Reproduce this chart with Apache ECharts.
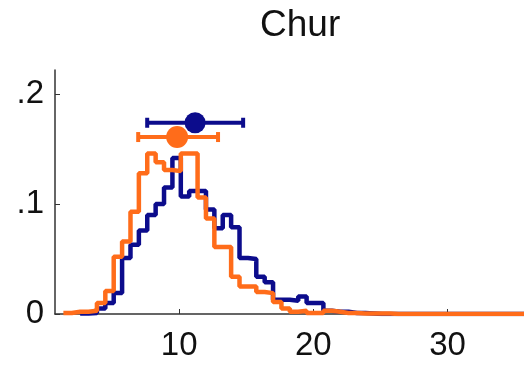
<!DOCTYPE html>
<html>
<head>
<meta charset="utf-8">
<script src="https://cdn.jsdelivr.net/npm/echarts@6/dist/echarts.min.js"></script>
<style>
html, body { margin: 0; padding: 0; background: #fff; }
#main { width: 524px; height: 366px; }
</style>
</head>
<body>
<div id="main"></div>
<script>
// histogram bins (shared by both series)
var binStart = 0.75;
var binWidth = 0.625;

// bin heights, left to right (null = nothing drawn yet)
var blueHeights = [null, null, null, 0.0005, 0.001, 0.005, 0.01, 0.019, 0.051, 0.063,
    0.076, 0.09, 0.1, 0.115, 0.142, 0.107, 0.112, 0.112, 0.095, 0.078,
    0.09, 0.079, 0.051, 0.05, 0.034, 0.029, 0.013, 0.013, 0.012, 0.016,
    0.01, 0.01, 0.003, 0.002, 0.002, 0.001, 0.001, 0.0005, 0, 0,
    0, 0, 0, 0, 0, 0, 0, 0, 0, 0,
    0, 0, 0, 0, 0, 0];
var orangeHeights = [null, 0.001, 0.002, 0.002, 0.003, 0.01, 0.021, 0.052, 0.066, 0.093,
    0.128, 0.146, 0.138, 0.131, 0.13, 0.146, 0.146, 0.106, 0.087, 0.061,
    0.061, 0.034, 0.025, 0.025, 0.02, 0.019, 0.011, 0.005, 0.002, 0.003,
    0.001, 0.001, 0.003, 0.002, 0.001, 0.001, 0.0005, 0.0005, 0.0005, 0.0005,
    0, 0, 0, 0, 0, 0, 0, 0, 0, 0,
    0, 0, 0, 0, 0, 0];

// mean and spread markers: [blue, orange]
var meanX = [11.19, 9.85];
var errLow = [7.62, 6.95];
var errHigh = [14.77, 12.9];
var markY = [0.174, 0.161];

var xTicks = [10, 20, 30];
var yTicks = [0, 0.1, 0.2];
var yTickLabels = ['0', '.1', '.2'];

var blue = '#0c0c8c';
var orange = '#ff6c1a';

function stepData(heights) {
    var out = [];
    for (var i = 0; i < heights.length; i++) {
        if (heights[i] === null) continue;
        out.push([binStart + i * binWidth, heights[i]]);
    }
    // close the last bin
    out.push([binStart + heights.length * binWidth, heights[heights.length - 1]]);
    return out;
}

function renderErr(params, api) {
    var lo = api.coord([api.value(0), api.value(2)]);
    var hi = api.coord([api.value(1), api.value(2)]);
    var cap = 5;
    var style = { stroke: api.visual('color'), lineWidth: 4 };
    return {
        type: 'group',
        children: [
            { type: 'line', shape: { x1: lo[0], y1: lo[1], x2: hi[0], y2: hi[1] }, style: style },
            { type: 'line', shape: { x1: lo[0], y1: lo[1] - cap, x2: lo[0], y2: lo[1] + cap }, style: style },
            { type: 'line', shape: { x1: hi[0], y1: hi[1] - cap, x2: hi[0], y2: hi[1] + cap }, style: style }
        ]
    };
}

var myChart = echarts.init(document.getElementById('main'));

var font = 'Liberation Sans, Arial, sans-serif';

var option = {
    animation: false,
    backgroundColor: '#fff',
    title: {
        text: 'Chur',
        left: 255,
        top: 2,
        textStyle: { fontSize: 37, fontWeight: 'normal', color: '#111', fontFamily: font }
    },
    grid: { left: 55, right: 0, top: 70, bottom: 52 },
    xAxis: {
        type: 'value',
        min: 0.75,
        max: 35.7,
        splitLine: { show: false },
        axisLine: { show: true, lineStyle: { color: '#333', width: 1.5 } },
        axisTick: { show: true, inside: true, length: 5, customValues: xTicks, lineStyle: { color: '#333' } },
        axisLabel: { customValues: xTicks, fontSize: 33, color: '#111', fontFamily: font, margin: 15 }
    },
    yAxis: {
        type: 'value',
        min: 0,
        max: 0.222,
        splitLine: { show: false },
        axisLine: { show: true, lineStyle: { color: '#333', width: 1.5 } },
        axisTick: { show: true, inside: true, length: 5, customValues: yTicks, lineStyle: { color: '#333' } },
        axisLabel: {
            customValues: yTicks,
            fontSize: 33,
            color: '#111',
            fontFamily: font,
            margin: 11,
            formatter: function (v) {
                for (var i = 0; i < yTicks.length; i++) {
                    if (Math.abs(yTicks[i] - v) < 1e-9) return yTickLabels[i];
                }
                return '';
            }
        }
    },
    series: [
        {
            type: 'line',
            step: 'end',
            data: stepData(blueHeights),
            symbol: 'none',
            lineStyle: { color: blue, width: 4.5 },
            z: 2
        },
        {
            type: 'line',
            step: 'end',
            data: stepData(orangeHeights),
            symbol: 'none',
            lineStyle: { color: orange, width: 4.5 },
            z: 3
        },
        {
            type: 'custom',
            renderItem: renderErr,
            itemStyle: { color: blue },
            encode: { x: [0, 1], y: 2 },
            data: [[errLow[0], errHigh[0], markY[0]]],
            z: 4
        },
        {
            type: 'scatter',
            symbolSize: 21,
            itemStyle: { color: blue, opacity: 1 },
            data: [[meanX[0], markY[0]]],
            z: 5
        },
        {
            type: 'custom',
            renderItem: renderErr,
            itemStyle: { color: orange },
            encode: { x: [0, 1], y: 2 },
            data: [[errLow[1], errHigh[1], markY[1]]],
            z: 6
        },
        {
            type: 'scatter',
            symbolSize: 22,
            itemStyle: { color: orange, opacity: 1 },
            data: [[meanX[1], markY[1]]],
            z: 7
        }
    ]
};

myChart.setOption(option);
</script>
</body>
</html>
